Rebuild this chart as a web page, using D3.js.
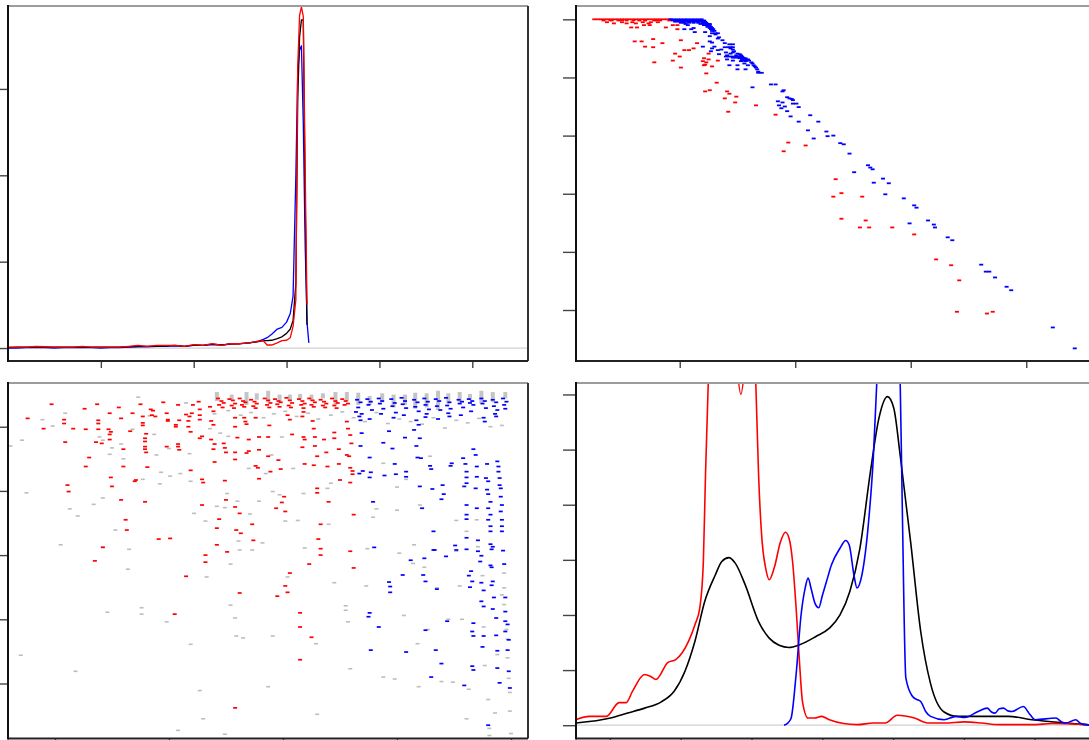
<!DOCTYPE html>
<html><head><meta charset="utf-8">
<script src="https://cdn.jsdelivr.net/npm/d3@7"></script>
<style>body{margin:0;background:#fff}svg{display:block}</style>
</head><body>
<svg id="c" width="1089" height="740"></svg>
<script>
// ---------------- Panel A (top-left): three profiles ----------------
const aX = [0,0.1,0.2,0.3,0.4,0.5,0.6,0.7,0.8,0.9,1.0,1.1,1.2,1.3,1.4,1.5,1.6,1.7,1.8,1.9,2.0,2.1,2.2,2.3,2.4,2.5,2.6,2.7,
  2.75,2.79,2.84,2.9,2.95,3.0,3.04,3.07,3.1,3.12,3.14,3.16,3.18,3.2,3.22,3.24];
const aRed = [0.01,0.01,0.01,0.02,0.015,0.01,0.01,0.01,0.02,0.01,0.01,0.01,0.01,0.02,0.03,0.02,0.03,0.03,0.03,0.02,0.04,0.03,0.05,0.03,0.05,0.05,0.06,0.08,
  0.085,0.035,0.035,0.06,0.085,0.09,0.12,0.25,0.56,3.26,3.85,3.95,3.84,2.1,0.5,null];
const aBlack = [0.005,0.01,0.01,0.01,0.01,0.01,0.01,0.01,0.01,0.01,0.01,0.01,0.01,0.015,0.02,0.02,0.02,0.025,0.03,0.02,0.035,0.03,0.045,0.035,0.05,0.05,0.06,0.075,
  0.085,0.085,0.09,0.11,0.13,0.17,0.22,0.32,0.75,2.87,3.6,3.8,3.8,1.71,0.27,null];
const aBlue = [0.0,0.0,0.005,0.005,0.005,0.0,0.005,0.005,0.005,0.005,0.0,0.005,0.005,0.01,0.015,0.015,0.02,0.02,0.025,0.02,0.03,0.03,0.04,0.035,0.045,0.05,0.06,0.08,
  0.10,0.12,0.16,0.22,0.24,0.30,0.40,0.60,2.0,3.2,3.45,3.5,2.6,1.2,0.3,0.06];
const aXTicks = [1,2,3,4,5];
const aYTicks = [0,1,2,3];

// ---------------- Panel B (top-right): rank scatter ----------------
const bRedTop = [0.26,0.29,0.32,0.35,0.38,0.41,0.44,0.47,0.50,0.53,0.56,0.59,0.62,0.65,0.68,0.71,0.74,0.77,0.80,0.83,0.86,0.89,0.92];
const bRed = [[0.40,0.015],[0.50,0.015],[0.60,0.015],[0.70,0.015],[0.80,0.015],
  [0.34,0.02],[0.41,0.02],[0.47,0.02],[0.54,0.02],[0.65,0.02],[0.70,0.02],[0.78,0.02],[0.83,0.02],[0.91,0.02],
  [0.37,0.05],[0.50,0.05],[0.59,0.05],[0.68,0.05],[0.75,0.05],[0.81,0.05],
  [0.43,0.07],[0.54,0.07],[0.62,0.07],[0.73,0.07],
  [0.69,0.10],[0.74,0.10],[0.94,0.10],[0.98,0.10],
  [0.58,0.14],[0.63,0.14],[0.88,0.14],[0.98,0.17],
  [0.61,0.38],[0.67,0.38],[0.77,0.34],[0.85,0.41],[1.01,0.36],[1.15,0.41],[0.70,0.47],[0.77,0.48],
  [1.12,0.50],[1.04,0.53],[1.08,0.53],[0.96,0.59],[1.25,0.59],[1.00,0.64],[1.21,0.67],[1.25,0.69],
  [1.33,0.71],[0.94,0.71],[1.20,0.72],[1.23,0.74],[0.78,0.74],[1.22,0.78],[1.21,0.79],[1.28,0.81],
  [1.01,0.83],[1.23,0.93],[1.32,1.09],[1.26,1.22],[1.22,1.24],[1.41,1.24],[1.43,1.28],[1.49,1.33],
  [1.39,1.36],[1.48,1.43],[1.66,1.48],[1.42,1.59],
  [1.83,1.64],[1.94,2.12],[2.09,2.17],[1.90,2.27],[2.35,2.75],[2.40,2.99],[2.33,3.05],[2.58,3.05],
  [2.40,3.43],[2.61,3.46],[2.56,3.58],[2.64,3.58],[2.84,3.58],[3.03,3.70],[3.22,4.13],[3.35,4.23],
  [3.42,4.49],[3.40,5.03],[3.66,5.06],[3.71,5.03]];
const bBlueRows = [
  [0,[0.92,0.95,0.98,1.01,1.04,1.07,1.10,1.13,1.16,1.19]],
  [0.02,[0.94,0.97,1.00,1.03,1.06,1.09,1.12,1.15,1.18,1.21]],
  [0.04,[0.96,0.99,1.02,1.05,1.08,1.11,1.14,1.17,1.20,1.22]],
  [0.06,[1.01,1.04,1.08,1.12,1.16,1.20,1.23]],
  [0.08,[1.05,1.18,1.21,1.24,1.26]],
  [0.10,[1.07,1.21,1.24,1.26]],
  [0.13,[1.24,1.27]],[0.15,[1.12,1.26,1.28]],[0.17,[1.04,1.10,1.27,1.29]],
  [0.20,[1.28,1.30]],[0.22,[1.13,1.22]],[0.24,[1.28,1.31,1.33]],[0.26,[1.31]],
  [0.29,[1.26]],[0.31,[1.34]],[0.33,[1.33]],[0.36,[1.37]],[0.38,[1.26]],[0.40,[1.28]],
  [0.41,[1.39]],[0.43,[1.43,1.46]],[0.47,[1.20,1.30]],[0.48,[1.39,1.42,1.44,1.46]],
  [0.50,[1.28,1.44]],[0.52,[1.36,1.46]],[0.53,[1.33]],[0.55,[1.27,1.47]],[0.57,[1.40,1.46]],
  [0.59,[1.44,1.50]],[0.60,[1.34,1.52]],[0.62,[1.41,1.49,1.53]],
  [0.64,[1.40,1.43,1.46,1.49,1.52,1.54]],[0.66,[1.46,1.49,1.52,1.55]],[0.67,[1.52,1.55,1.57]],
  [0.69,[1.41,1.54,1.57,1.59]],[0.71,[1.46,1.54,1.57,1.60]],[0.72,[1.53,1.57]],[0.74,[1.62]],
  [0.76,[1.56,1.63]],[0.79,[1.43,1.50,1.59,1.64]],[0.81,[1.65]],[0.83,[1.66]],
  [0.86,[1.50,1.57,1.67]],[0.90,[1.68]],[0.92,[1.68,1.71]]];
const bBlue = [[1.63,1.17],[1.79,1.12],[1.83,1.12],[1.89,1.24],[1.90,1.22],[1.93,1.34],[1.95,1.36],[1.97,1.37],[1.98,1.39],
  [1.85,1.41],[1.89,1.43],[1.98,1.45],[2.01,1.45],[1.86,1.48],[1.91,1.50],[1.88,1.53],[2.03,1.51],
  [1.93,1.58],[1.96,1.67],[2.13,1.65],[2.03,1.76],[2.20,1.76],[2.11,1.91],[2.27,1.93],[2.28,2.01],
  [2.33,2.00],[2.16,2.05],[2.39,2.13],[2.42,2.15],[2.47,2.31],[2.63,2.51],[2.65,2.55],[2.67,2.58],
  [2.51,2.63],[2.76,2.74],[2.81,2.82],[2.68,2.81],[2.78,3.01],[2.94,3.08],[3.03,3.20],[3.05,3.24],
  [2.99,3.51],[3.15,3.46],[3.20,3.53],[3.21,3.58],[3.32,3.75],[3.36,3.80],[3.61,4.22],[3.65,4.34],
  [3.68,4.34],[3.73,4.44],[3.83,4.60],[3.87,4.66],[4.23,5.30],[4.42,5.66]];
const bXTicks = [1,2,3,4];
const bYTicks = [0,1,2,3,4,5];

// ---------------- Panel C (bottom-left): scatter ----------------
const cRed = [[-0.03,0.65],[-0.24,0.87],[0.08,0.89],[0.08,0.95],[-0.10,1.03],[0.16,1.03],[0.26,0.72],[0.37,0.65],
  [0.27,1.04],[0.38,0.90],[0.38,0.95],[0.38,1.04],[0.09,1.24],[0.36,1.24],[0.41,1.26],[0.48,0.79],[0.56,0.70],
  [0.58,0.87],[0.49,1.08],[0.47,1.04],[0.48,1.12],[0.48,1.20],[0.30,1.48],[0.27,1.62],[0.60,1.35],[0.60,1.62],
  [0.49,1.79],[0.50,1.93],[0.11,1.91],[0.12,2.01],[0.58,2.14],[0.79,2.17],[0.70,1.85],[0.71,1.83],[0.62,2.45],
  [0.63,2.61],[0.42,2.88],[0.35,3.09],[0.91,2.75],[1.01,2.74],[1.15,3.33],[1.32,3.00],[1.32,3.11],[1.05,3.92],
  [1.58,5.38],[2.15,3.90],[2.15,4.12],[2.15,4.63],[2.25,4.28],[2.04,3.58],[1.95,3.64],[2.02,3.48],[2.06,3.28],
  [1.62,3.59],[1.42,2.84],[1.51,2.95],[1.42,2.58],[1.59,2.61],[1.63,2.66],[1.74,2.77],[1.73,2.52],[1.44,2.44],
  [1.62,2.35],[1.58,2.25],[1.50,2.14],[1.49,1.84],[1.29,1.82],[1.30,1.87],[1.29,2.22],[1.19,1.68],[0.81,1.63],
  [0.80,1.11],[0.79,1.18],[0.79,1.23],[0.79,1.31],[0.79,1.35],[0.80,1.40],[0.77,0.84],[0.77,0.94],[0.77,0.98],
  [0.75,0.65],[0.68,0.79],[0.66,1.07],[0.85,0.82],[0.86,0.75],[0.84,0.73],[0.88,0.84],[0.95,0.62],[0.98,0.79],
  [0.99,0.89],[0.99,0.91],[0.98,1.31],[1.08,1.27],[1.08,1.31],[1.09,1.36],[1.06,1.00],[1.06,0.97],[1.09,0.90],
  [1.08,0.66],[1.15,0.81],[1.17,0.91],[1.17,1.00],[1.19,1.08],[1.18,0.84],[1.20,0.79],[1.21,0.66],[1.26,0.61],
  [1.27,0.73],[1.27,0.82],[1.27,0.89],[1.29,1.15],[1.27,1.18],[1.37,0.91],[1.39,0.97],[1.40,1.27],[1.39,1.35],
  [1.40,1.55],[1.37,1.20],[1.36,0.69],[1.39,0.76],[1.48,1.26],[1.49,1.33],[1.50,1.40],[1.58,1.40],[1.58,1.51],
  [1.60,1.17],[1.58,0.86],[1.58,1.00],[1.67,0.92],[1.68,0.96],[1.66,0.86],[1.70,1.20],[1.70,1.38],[1.68,1.41],
  [1.76,0.86],[1.76,1.61],[1.78,1.64],[1.79,1.36],[1.79,1.16],[1.79,1.81],[1.87,1.16],[1.88,0.98],[1.87,1.46],
  [1.89,1.70],[1.96,1.52],[1.98,1.66],[1.94,2.27],[2.02,2.32],[1.99,2.18],[2.01,2.09],[2.08,1.12],[2.04,0.82],
  [2.06,0.89],[2.18,1.16],[2.19,1.20],[2.17,1.32],[2.19,1.58],[2.18,0.77],[2.17,0.84],[2.26,0.91],[2.27,1.03],
  [2.28,1.16],[2.28,1.30],[2.27,1.60],[2.30,1.46],[2.30,1.96],[2.30,2.03],[2.36,1.20],[2.38,1.40],[2.39,1.62],
  [2.40,2.17],[2.33,2.52],[2.31,2.75],[2.33,2.90],[2.33,3.00],[2.23,3.14],[2.45,1.09],[2.45,1.18],[2.49,1.35],
  [2.49,1.58],[2.50,1.83],[2.56,1.44],[2.58,1.46],[2.59,1.64],[2.61,1.69],[2.61,1.74],[2.59,1.87],[2.62,2.37],
  [2.59,2.94],[2.62,3.20],[2.57,1.03],[2.56,0.92],[2.59,1.13],[2.60,1.26],
  [1.43,0.56],[1.46,0.60],[1.48,0.63],[1.44,0.66],[1.47,0.70],
  [1.53,0.57],[1.56,0.59],[1.58,0.64],[1.55,0.67],[1.57,0.71],
  [1.62,0.56],[1.65,0.60],[1.67,0.62],[1.64,0.66],[1.66,0.69],
  [1.72,0.58],[1.75,0.61],[1.77,0.64],[1.74,0.68],[1.76,0.71],
  [1.84,0.56],[1.87,0.59],[1.89,0.63],[1.86,0.66],[1.88,0.70],
  [1.93,0.57],[1.96,0.60],[1.98,0.62],[1.95,0.65],[1.97,0.69],
  [2.03,0.55],[2.06,0.59],[2.08,0.63],[2.05,0.67],[2.07,0.70],
  [2.14,0.57],[2.17,0.60],[2.19,0.64],[2.16,0.66],[2.18,0.71],
  [2.23,0.56],[2.26,0.59],[2.28,0.62],[2.25,0.66],[2.27,0.69],
  [2.33,0.58],[2.36,0.61],[2.38,0.64],[2.35,0.67],[2.37,0.70],
  [2.43,0.56],[2.46,0.60],[2.48,0.63],[2.45,0.67],[2.47,0.71],
  [2.52,0.57],[2.55,0.60],[2.57,0.64],[2.54,0.66]];
const cBlue = [[2.64,0.77],[2.67,0.84],[2.68,0.90],[2.69,1.10],[2.68,1.30],[2.76,1.48],[2.67,1.73],[2.70,1.69],
  [2.77,1.71],[2.76,1.79],[2.79,2.17],[2.89,1.76],[2.88,1.25],[2.93,1.07],[2.96,1.34],[2.98,1.58],[2.99,1.74],
  [3.08,1.70],[3.08,1.78],[3.07,1.17],[3.15,1.05],[3.20,1.18],[3.17,1.30],[3.19,0.97],[3.18,1.48],[3.21,1.49],
  [3.29,1.61],[3.30,1.66],[3.20,1.93],[3.22,2.27],[3.31,1.97],[3.40,1.91],[3.41,2.05],[3.39,2.13],[3.48,1.57],
  [3.47,1.61],[3.58,1.49],[3.60,1.58],[3.61,1.70],[3.61,1.79],[3.61,1.88],[3.59,1.93],[3.69,1.44],[3.67,1.35],
  [3.70,1.62],[3.70,1.78],[3.69,1.96],[3.79,1.58],[3.78,1.80],[3.80,1.85],[3.79,1.98],[3.80,2.05],[3.88,1.54],
  [3.89,1.62],[3.89,1.70],[3.90,1.80],[3.90,1.91],[3.91,1.96],[3.91,2.09],[3.92,2.22],[3.91,2.32],[3.92,2.45],
  [3.92,2.55],[3.92,2.63],[3.82,2.17],[3.80,2.27],[3.82,2.37],[3.80,2.45],[3.82,2.55],[3.82,2.63],[3.70,2.27],
  [3.61,2.22],[3.61,2.37],[3.61,2.44],[3.61,2.73],[3.71,2.77],[3.61,2.91],[3.71,2.94],[3.74,3.01],[3.73,3.10],
  [3.82,2.83],[3.84,2.87],[3.83,2.91],[3.94,3.14],[3.93,2.93],[3.82,3.16],[3.83,3.19],[3.65,3.25],[3.63,3.32],
  [3.66,3.41],[3.74,3.43],[3.64,3.50],[3.84,3.41],[3.83,3.47],[3.76,3.55],[3.95,3.66],[3.85,3.66],[3.74,3.72],
  [3.76,3.80],[3.84,3.84],[3.95,3.88],[3.87,3.98],[3.95,4.03],[3.97,4.08],[3.95,4.19],[3.98,4.32],[3.87,4.25],
  [3.76,4.26],[3.66,4.19],[3.67,4.26],[3.67,4.06],[3.75,4.43],[3.88,4.49],[3.97,4.48],[3.98,4.81],[3.66,4.73],
  [3.67,4.79],[3.88,4.76],[3.90,4.99],[3.99,5.07],[3.59,5.03],[3.80,5.65],[3.30,4.90],[3.39,4.69],[3.44,4.03],
  [3.43,3.02],[3.33,2.92],[3.24,3.05],[3.23,3.31],[3.25,3.41],[3.35,3.53],[3.25,4.17],[3.34,4.48],[3.08,4.51],
  [2.84,4.12],[2.76,3.90],[2.75,3.96],[2.77,4.48],[2.80,2.88],[2.93,3.42],[2.94,3.49],[2.94,3.58],[3.05,3.31],
  [3.12,3.08],[3.32,2.63],[3.32,2.92],[3.51,2.85],[3.52,2.92],
  [2.65,0.58],[2.68,0.62],[2.66,0.70],[2.69,0.80],
  [2.74,0.57],[2.77,0.61],[2.75,0.66],[2.78,0.74],[2.76,0.88],
  [2.84,0.56],[2.87,0.60],[2.85,0.64],[2.88,0.72],[2.86,0.80],
  [2.95,0.57],[2.98,0.63],[2.96,0.68],[2.99,0.78],[2.97,0.86],
  [3.04,0.55],[3.07,0.60],[3.05,0.65],[3.08,0.71],[3.06,0.82],
  [3.15,0.58],[3.18,0.62],[3.16,0.69],[3.19,0.76],[3.17,0.90],
  [3.24,0.56],[3.27,0.61],[3.25,0.66],[3.28,0.73],[3.26,0.80],[3.25,0.85],
  [3.34,0.57],[3.37,0.60],[3.35,0.68],[3.38,0.74],[3.36,0.88],
  [3.43,0.55],[3.46,0.62],[3.44,0.67],[3.47,0.72],[3.45,0.79],[3.46,0.84],
  [3.54,0.58],[3.57,0.61],[3.55,0.64],[3.58,0.70],[3.56,0.82],
  [3.63,0.57],[3.66,0.60],[3.64,0.63],[3.67,0.66],[3.65,0.76],
  [3.74,0.56],[3.77,0.60],[3.75,0.64],[3.78,0.71],[3.76,0.86],[3.77,0.92],
  [3.84,0.58],[3.87,0.62],[3.85,0.68],[3.88,0.74],[3.86,0.80],[3.87,0.84],
  [3.93,0.56],[3.96,0.61],[3.94,0.66],[3.95,0.72]];
const cGray = [[-0.39,1.30],[-0.29,1.21],[-0.25,2.03],[-0.30,4.56],[-0.11,0.89],[-0.02,0.99],[0.09,0.79],[0.05,2.84],
  [0.13,2.28],[0.20,2.39],[0.18,4.81],[0.34,2.21],[0.42,2.11],[0.42,2.87],[0.39,1.16],[0.42,1.21],[0.46,3.89],
  [0.50,1.33],[0.48,1.43],[0.53,2.61],[0.58,1.27],[0.60,1.50],[0.64,3.22],[0.65,2.91],[0.68,1.04],[0.73,0.54],
  [0.76,3.82],[0.76,3.92],[0.77,1.82],[0.83,0.83],[0.87,1.12],[0.89,1.44],[0.92,1.89],[0.93,1.71],[0.98,4.04],
  [1.00,1.34],[1.01,1.77],[1.08,5.73],[1.10,1.73],[1.15,0.63],[1.19,1.85],[1.18,1.42],[1.19,4.39],[1.22,2.35],
  [1.27,5.11],[1.30,5.55],[1.32,2.47],[1.33,3.34],[1.36,1.03],[1.42,2.24],[1.45,1.10],[1.49,2.26],[1.49,5.79],
  [1.51,2.04],[1.52,1.15],[1.54,3.14],[1.54,3.78],[1.58,3.98],[1.60,2.16],[1.59,4.26],[1.61,2.78],[1.62,2.92],
  [1.65,4.29],[1.70,1.65],[1.71,2.36],[1.73,2.92],[1.79,2.16],[1.82,2.81],[1.85,1.73],[1.87,5.05],[1.90,1.44],
  [1.91,2.01],[1.91,4.26],[1.97,2.06],[1.99,1.16],[2.02,2.47],[2.04,3.34],[2.09,1.65],[2.13,2.46],[2.18,2.04],
  [2.19,2.89],[2.29,4.38],[2.30,5.48],[2.39,1.96],[2.42,1.88],[2.40,2.52],[2.45,3.43],[2.55,3.79],[2.55,3.86],
  [2.57,4.04],[2.59,4.77],[2.73,3.48],[2.74,2.90],[2.79,2.41],[2.82,2.28],[2.88,1.57],[2.88,4.90],[2.98,4.93],
  [3.00,1.94],[3.00,2.30],[3.02,2.97],[3.06,3.94],[3.08,1.82],[3.14,3.13],[3.15,2.84],[3.18,4.38],[3.19,5.05],
  [3.20,2.22],[3.24,3.19],[3.27,4.16],[3.29,1.46],[3.35,3.51],[3.39,4.97],[3.45,4.00],[3.49,4.98],[3.52,2.46],
  [3.52,2.94],[3.55,3.48],[3.57,4.00],[3.61,2.63],[3.61,5.55],[3.63,5.09],[3.70,2.45],[3.71,2.87],[3.75,3.32],
  [3.76,4.12],[3.77,4.72],[3.80,5.25],[3.81,5.70],[3.81,5.81],[3.86,5.46],[3.88,4.55],[3.92,3.62],[3.94,3.28],
  [3.94,3.51],[3.94,3.77],[3.96,4.16],[3.97,4.31],[3.97,4.60],[3.98,4.92],[3.99,5.14],[3.99,5.43],[4.00,5.78],
  [1.40,0.80],[1.52,0.75],[1.63,0.82],[1.72,0.78],[1.83,0.86],[1.92,0.80],[2.02,0.76],[2.12,0.84],[2.22,0.79],
  [2.31,0.88],[2.42,0.82],[2.52,0.77],[2.62,0.86],[2.72,0.92],[2.82,0.78],[2.92,0.95],[3.02,0.88],[3.12,0.92],
  [3.22,0.96],[3.32,0.86],[3.42,1.02],[3.52,0.90],[3.62,0.94],[3.72,0.87],[3.82,1.00],[3.92,0.98]];
// gray stacks at the top: [x, yTop, yBottom]
const cGrayStacks = [[1.42,0.46,0.60],[1.55,0.50,0.58],[1.68,0.46,0.66],[1.77,0.48,0.58],[1.87,0.44,0.62],
  [1.97,0.50,0.62],[2.06,0.50,0.60],[2.15,0.49,0.57],[2.25,0.50,0.60],[2.35,0.48,0.56],[2.46,0.46,0.66],
  [2.56,0.46,0.60],[2.66,0.47,0.66],[2.76,0.52,0.66],[2.87,0.48,0.62],[2.97,0.50,0.70],[3.07,0.50,0.66],
  [3.16,0.47,0.72],[3.26,0.48,0.70],[3.36,0.44,0.74],[3.45,0.48,0.64],[3.55,0.46,0.62],[3.64,0.49,0.58],
  [3.74,0.44,0.64],[3.84,0.46,0.62],[3.95,0.46,0.56]];
const cXTicks = [0,1,2,3,4];
const cYTicks = [1,2,3,4,5];

// ---------------- Panel D (bottom-right): density curves ----------------
const dRed = [[0.52,0.10],[0.71,0.16],[0.95,0.16],[1.13,0.41],[1.23,0.41],[1.32,0.62],[1.49,0.92],[1.57,0.89],[1.65,0.83],
  [1.82,1.14],[1.93,1.19],[2.11,1.52],[2.20,1.82],[2.27,2.13],[2.32,2.97],[2.35,4.54],[2.39,6.23],[2.45,8.5],
  [2.6,9.5],[2.72,8],[2.79,6.6],[2.85,6.0],[2.91,6.6],[2.98,8],[3.06,6.23],[3.10,4.54],[3.15,3.33],[3.20,2.85],
  [3.25,2.64],[3.32,2.85],[3.41,3.33],[3.48,3.50],[3.53,3.39],[3.58,2.97],[3.63,2.13],[3.68,1.10],[3.72,0.43],
  [3.80,0.13],[3.89,0.13],[3.99,0.16],[4.10,0.10],[4.30,0.03],[4.49,0.01],[4.72,0.04],[4.89,0.04],[5.06,0.18],
  [5.30,0.13],[5.49,0.04],[5.72,0.04],[6.01,0.06],[6.25,0.04],[6.49,0.01],[6.96,0.01],[7.25,0.03],[7.72,0.01],[7.87,0.0]];
const dBlack = [[0.52,0.04],[1.01,0.13],[1.25,0.22],[1.49,0.31],[1.72,0.42],[1.91,0.62],[2.06,0.98],[2.20,1.52],
  [2.34,2.25],[2.49,2.73],[2.58,2.97],[2.68,3.04],[2.77,2.94],[2.91,2.55],[3.10,1.88],[3.25,1.58],[3.39,1.45],
  [3.53,1.41],[3.68,1.46],[3.91,1.61],[4.10,1.76],[4.25,2.00],[4.39,2.43],[4.53,3.20],[4.68,4.60],[4.80,5.57],
  [4.92,5.96],[5.01,5.75],[5.10,4.90],[5.25,3.30],[5.39,1.70],[5.53,0.75],[5.72,0.24],[5.91,0.16],[6.25,0.16],
  [6.63,0.16],[6.96,0.10],[7.44,0.04],[7.72,0.01],[7.87,0.0]];
const dBlue = [[3.46,0.0],[3.52,0.05],[3.56,0.13],[3.63,0.92],[3.70,2.0],[3.76,2.5],[3.80,2.67],[3.84,2.49],[3.90,2.2],
  [3.95,2.13],[4.00,2.35],[4.06,2.61],[4.13,2.91],[4.25,3.21],[4.33,3.35],[4.38,3.27],[4.45,2.7],[4.49,2.49],
  [4.56,2.73],[4.65,3.64],[4.72,4.84],[4.77,6.23],[4.85,8.5],[5.0,9],[5.08,7],[5.10,6.23],[5.13,3.94],[5.18,0.86],
  [5.27,0.53],[5.33,0.47],[5.39,0.43],[5.46,0.25],[5.53,0.16],[5.72,0.10],[5.89,0.16],[6.01,0.14],[6.20,0.25],
  [6.33,0.31],[6.39,0.24],[6.44,0.22],[6.50,0.30],[6.56,0.31],[6.62,0.26],[6.68,0.25],[6.84,0.34],[6.93,0.2],
  [7.01,0.10],[7.30,0.13],[7.38,0.06],[7.44,0.04],[7.58,0.10],[7.65,0.03],[7.72,0.01],[7.87,0.0]];
const dXTicks = [1,2,3,4,5,6,7];
const dYTicks = [0,1,2,3,4,5,6];

// ---------------- drawing ----------------
const svg = d3.select("#c");
const defs = svg.append("defs");
const RED = "#ff0000", BLUE = "#0000ff", BLACK = "#000000", GRAY = "#bdbdbd";

function panel(o) {
  const x = d3.scaleLinear().domain(o.xd).range([o.x0, o.x1]);
  const y = d3.scaleLinear().domain(o.yd).range(o.yRev ? [o.y0, o.y1] : [o.y1, o.y0]);
  defs.append("clipPath").attr("id", "clip" + o.id)
    .append("rect").attr("x", o.x0).attr("y", o.y0).attr("width", o.x1 - o.x0).attr("height", o.y1 - o.y0);
  const g = svg.append("g");
  const data = g.append("g").attr("clip-path", `url(#clip${o.id})`);
  return { o, x, y, g, data };
}
function frame(p) {
  const o = p.o, g = p.g;
  const ax = g.append("g").attr("transform", `translate(${o.x0},0)`)
    .call(d3.axisLeft(p.y).tickValues(o.yt).tickSize(13).tickFormat(""));
  const bx = g.append("g").attr("transform", `translate(0,${o.y1})`)
    .call(d3.axisBottom(p.x).tickValues(o.xt).tickSize(7).tickFormat(""));
  [ax, bx].forEach(a => { a.select(".domain").remove(); a.selectAll("line").attr("stroke", "#444").attr("stroke-width", 1.4); });
  g.append("line").attr("x1", o.x0).attr("x2", o.x1).attr("y1", o.y0).attr("y2", o.y0).attr("stroke", "#9c9c9c").attr("stroke-width", 2);
  g.append("line").attr("x1", o.x1).attr("x2", o.x1).attr("y1", o.y0).attr("y2", o.y1).attr("stroke", "#333").attr("stroke-width", 2);
  g.append("line").attr("x1", o.x0).attr("x2", o.x1).attr("y1", o.y1).attr("y2", o.y1).attr("stroke", "#222").attr("stroke-width", 2);
  g.append("line").attr("x1", o.x0).attr("x2", o.x0).attr("y1", o.y0 - 1).attr("y2", o.y1 + 1).attr("stroke", "#111").attr("stroke-width", 2);
}
function baseline(p, v) {
  p.data.append("line").attr("x1", p.o.x0).attr("x2", p.o.x1).attr("y1", p.y(v)).attr("y2", p.y(v))
    .attr("stroke", "#d0d0d0").attr("stroke-width", 1.3);
}
function dashes(p, pts, color, w, h) {
  p.data.append("g").selectAll("rect").data(pts).join("rect")
    .attr("x", d => p.x(d[0]) - w / 2).attr("y", d => p.y(d[1]) - h / 2)
    .attr("width", w).attr("height", h).attr("fill", color);
}

// Panel A
const A = panel({ id: "A", x0: 8, x1: 528, y0: 6, y1: 361, xd: [0, 5.6], yd: [-0.15, 3.96], xt: aXTicks, yt: aYTicks });
baseline(A, 0);
const aLine = (ys) => d3.line().defined((d, i) => ys[i] !== null).x((d) => A.x(d)).y((d, i) => A.y(ys[i]))(aX);
[[aBlue, BLUE], [aBlack, BLACK], [aRed, RED]].forEach(([ys, c]) => {
  A.data.append("path").attr("d", aLine(ys)).attr("fill", "none").attr("stroke", c).attr("stroke-width", 1.3).attr("stroke-linejoin", "round");
});
frame(A);

// Panel B
const B = panel({ id: "B", x0: 576, x1: 1096, y0: 6, y1: 361, xd: [0.102, 4.604], yd: [-0.229, 5.877], yRev: true, xt: bXTicks, yt: bYTicks });
dashes(B, bRedTop.map(v => [v, 0]).concat(bRed), RED, 4, 1.8);
dashes(B, bBlueRows.flatMap(([yv, xs]) => xs.map(xv => [xv, yv])).concat(bBlue), BLUE, 4, 1.8);
frame(B);

// Panel C
const C = panel({ id: "C", x0: 8, x1: 528, y0: 383, y1: 738.5, xd: [-0.412, 4.149], yd: [0.319, 5.857], yRev: true, xt: cXTicks, yt: cYTicks });
C.data.append("g").selectAll("rect").data(cGrayStacks).join("rect")
  .attr("x", d => C.x(d[0]) - 2).attr("y", d => C.y(d[1])).attr("width", 4)
  .attr("height", d => C.y(d[2]) - C.y(d[1])).attr("fill", "#c4c4c4");
dashes(C, cGray, GRAY, 4, 1.6);
dashes(C, cRed, RED, 4, 1.7);
dashes(C, cBlue, BLUE, 4, 1.7);
frame(C);

// Panel D
const D = panel({ id: "D", x0: 576, x1: 1096, y0: 383, y1: 738.5, xd: [0.521, 7.866], yd: [-0.241, 6.208], xt: dXTicks, yt: dYTicks });
baseline(D, 0);
const dLine = d3.line().x(d => D.x(d[0])).y(d => D.y(d[1])).curve(d3.curveMonotoneX);
[[dBlack, BLACK], [dRed, RED], [dBlue, BLUE]].forEach(([pts, c]) => {
  D.data.append("path").attr("d", dLine(pts)).attr("fill", "none").attr("stroke", c).attr("stroke-width", 1.6);
});
frame(D);
</script>
</body></html>
